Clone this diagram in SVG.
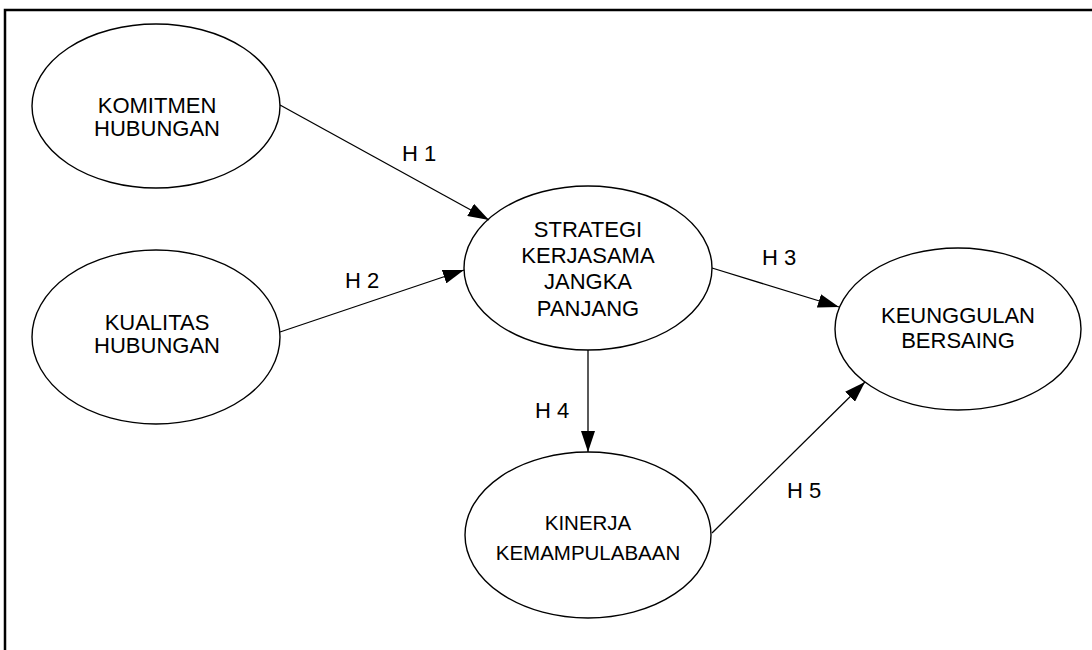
<svg xmlns="http://www.w3.org/2000/svg" width="1092" height="650" viewBox="0 0 1092 650">
<defs>
<style>
.node ellipse{fill:#fff;stroke:#000;stroke-width:1.4}
.node text,.lbl{font-family:"Liberation Sans",Arial,sans-serif;font-size:22px;fill:#000;text-anchor:middle}
.lbl{text-anchor:start}
.small text{font-size:20.5px}
.conn line{stroke:#000;stroke-width:1.3;marker-end:url(#ah)}
</style>
<marker id="ah" markerUnits="userSpaceOnUse" markerWidth="22" markerHeight="14" refX="21" refY="7" orient="auto">
<path d="M0,0 L21,7 L0,14 Z" fill="#000"/>
</marker>
</defs>
<rect width="1092" height="650" fill="#fff"/>
<path d="M5,650 V10 H1092" fill="none" stroke="#000" stroke-width="2.5"/>
<g id="komitmen" class="node">
<ellipse cx="156" cy="106" rx="124" ry="82"/>
<text x="157" y="113">KOMITMEN</text>
<text x="157" y="136">HUBUNGAN</text>
</g>
<g id="kualitas" class="node">
<ellipse cx="156" cy="337" rx="124" ry="87"/>
<text x="157" y="330">KUALITAS</text>
<text x="157" y="353">HUBUNGAN</text>
</g>
<g id="strategi" class="node">
<ellipse cx="588" cy="268" rx="124" ry="82"/>
<text x="588" y="237">STRATEGI</text>
<text x="588" y="263">KERJASAMA</text>
<text x="588" y="289">JANGKA</text>
<text x="588" y="316">PANJANG</text>
</g>
<g id="keunggulan" class="node">
<ellipse cx="958" cy="329" rx="123" ry="81"/>
<text x="958" y="323">KEUNGGULAN</text>
<text x="958" y="348">BERSAING</text>
</g>
<g id="kinerja" class="node small">
<ellipse cx="588" cy="535" rx="123" ry="83"/>
<text x="588" y="530">KINERJA</text>
<text x="588" y="560">KEMAMPULABAAN</text>
</g>
<g id="connectors" class="conn">
<line x1="280" y1="105" x2="489" y2="220"/>
<line x1="280" y1="332" x2="464" y2="270"/>
<line x1="712" y1="268" x2="839" y2="307"/>
<line x1="588" y1="350" x2="588" y2="452"/>
<line x1="712" y1="533" x2="865" y2="382"/>
</g>
<g id="labels">
<text class="lbl" x="402" y="161">H 1</text>
<text class="lbl" x="345" y="288">H 2</text>
<text class="lbl" x="762" y="265">H 3</text>
<text class="lbl" x="535" y="418">H 4</text>
<text class="lbl" x="787" y="498">H 5</text>
</g>
</svg>
